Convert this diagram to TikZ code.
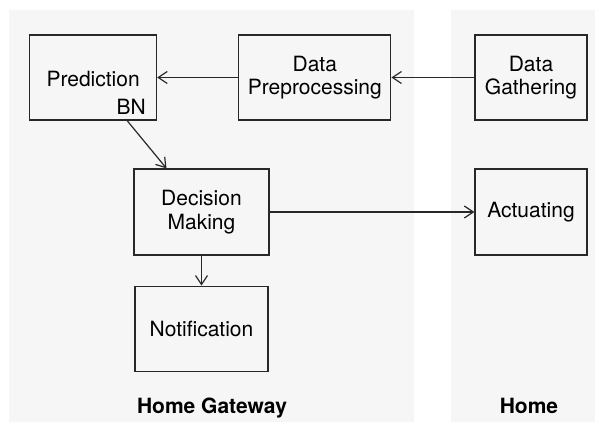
\documentclass[tikz,border=0pt]{standalone}
\usepackage{fontspec}
\setmainfont{TeX Gyre Heros}
\usetikzlibrary{positioning, arrows.meta}
\definecolor{lanegray}{RGB}{246,246,246}
\definecolor{boxline}{RGB}{40,40,40}
\tikzset{
    procbox/.style={rectangle, draw=boxline, line width=0.6pt, align=center, font=\fontsize{10.5}{11.7}\selectfont, inner sep=0pt},
    arr/.style={-{Straight Barb[length=4.5pt, width=6pt]}, line width=0.6pt, color=boxline},
    % lane titles at the foot of each lane
    lanelab/.style={font=\fontsize{10.5}{12}\selectfont\bfseries, anchor=base}
}
\begin{document}
\begin{tikzpicture}[x=0.5pt, y=-0.5pt, node distance=15pt and 41pt]
    \useasboundingbox (0,0) rectangle (595,422);
    \fill[lanegray] (9,10) rectangle (414,422);
    \fill[lanegray] (451,10) rectangle (595,422);
    \node[lanelab] at (212,414) (l1) {Home Gateway};
    \node[lanelab] at (529,414) (l2) {Home};
    \node[procbox, minimum width=56pt, minimum height=42.5pt] at (531,77.5) (b1) {Data\\Gathering};
    \node[procbox, minimum width=76pt, minimum height=42.5pt, left=41.5pt of b1] (b2) {Data\\Preprocessing};
    \node[procbox, minimum width=63.5pt, minimum height=42.5pt, left=40.5pt of b2, font=\fontsize{10.5}{14}\selectfont] (b3) {\mbox{}\\[9pt]Prediction\\\hspace*{38pt}BN};
    \node[procbox, minimum width=67.5pt, minimum height=43pt] at (201.5,212) (b4) {Decision\\Making};
    \node[procbox, minimum width=66.5pt, minimum height=42.5pt, below=of b4] (b5) {Notification};
    \node[procbox, minimum width=56pt, minimum height=43pt] at (531,212) (b6) {Actuating};
    \draw[arr] (b1) -- (b2); \draw[arr] (b2) -- (b3);
    \draw[arr] ([xshift=17pt]b3.south) -- ([xshift=-17.5pt]b4.north);
    \draw[arr] (b4) -- (b6); \draw[arr] (b4) -- (b5);
\end{tikzpicture}
\end{document}
